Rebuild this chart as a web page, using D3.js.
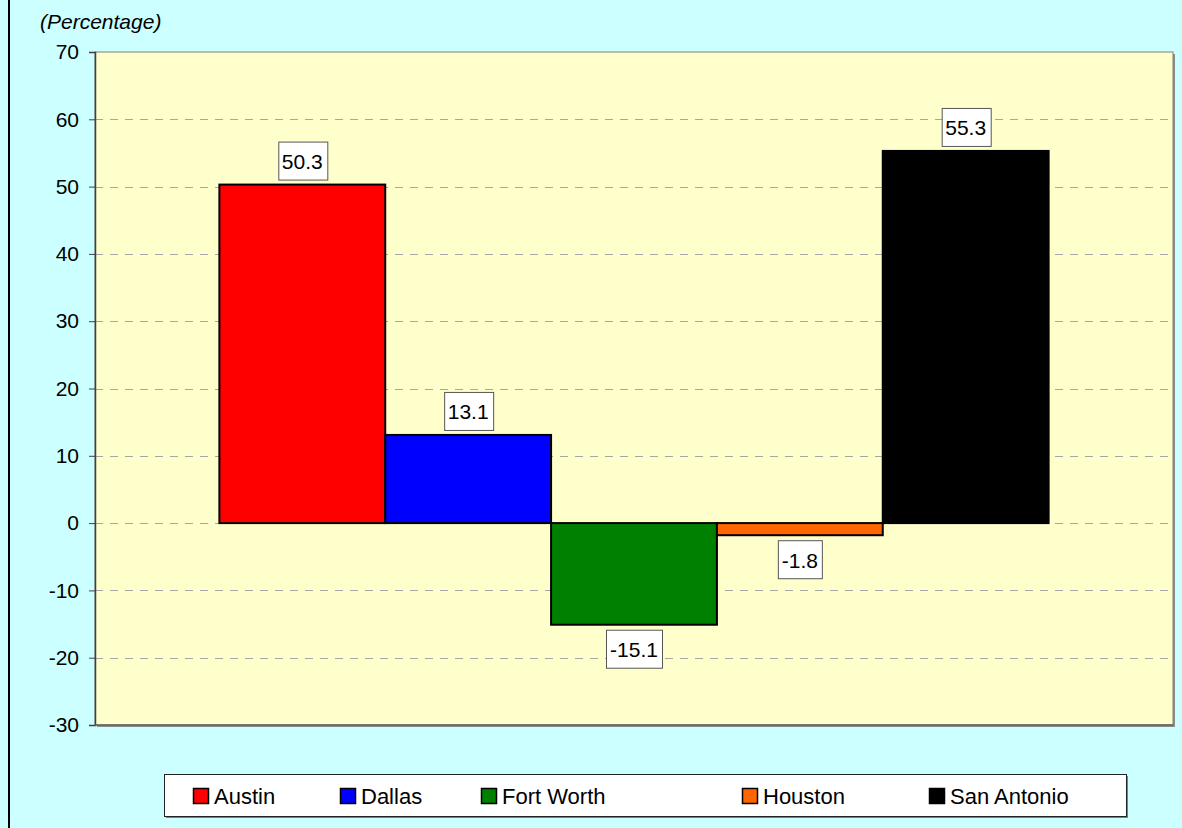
<!DOCTYPE html>
<html>
<head>
<meta charset="utf-8">
<script src="https://cdn.jsdelivr.net/npm/d3@7"></script>
<style>
  body { margin: 0; background: #CCFFFF; }
  svg { display: block; font-family: "Liberation Sans", Arial, sans-serif; }
</style>
</head>
<body>
<div id="wrapper"></div>
<script>
const cities = ["Austin", "Dallas", "Fort Worth", "Houston", "San Antonio"]
const values = [50.3, 13.1, -15.1, -1.8, 55.3]
const colors = ["#FF0000", "#0000FF", "#008000", "#FF6600", "#000000"]
const yTicks = [-30, -20, -10, 0, 10, 20, 30, 40, 50, 60, 70]
const legendX = [193, 340, 481, 742, 929]

function drawChart() {
  const dimensions = {
    width: 1182,
    height: 828,
    margin: { top: 52, right: 9, bottom: 103, left: 95 }
  }
  dimensions.boundedWidth = dimensions.width - dimensions.margin.left - dimensions.margin.right
  dimensions.boundedHeight = dimensions.height - dimensions.margin.top - dimensions.margin.bottom

  const wrapper = d3.select("#wrapper")
    .append("svg")
    .attr("width", dimensions.width)
    .attr("height", dimensions.height)

  wrapper.append("rect")
    .attr("width", dimensions.width)
    .attr("height", dimensions.height)
    .attr("fill", "#CCFFFF")

  // chart border (only left edge is in view)
  wrapper.append("line")
    .attr("x1", 9).attr("x2", 9)
    .attr("y1", 0).attr("y2", dimensions.height)
    .attr("stroke", "#000")
    .attr("stroke-width", 2)

  wrapper.append("text")
    .attr("x", 40).attr("y", 29)
    .attr("font-size", 21)
    .attr("font-style", "italic")
    .attr("fill", "#000")
    .text("(Percentage)")

  const bounds = wrapper.append("g")
    .attr("transform", `translate(${dimensions.margin.left},${dimensions.margin.top})`)

  const xScale = d3.scaleBand()
    .domain(cities)
    .range([0, dimensions.boundedWidth])
    .paddingInner(0)
    .paddingOuter(0.75)

  const yScale = d3.scaleLinear()
    .domain([-30, 70])
    .range([dimensions.boundedHeight, 0])

  // plot area with shadow
  bounds.append("rect")
    .attr("x", 2).attr("y", 2)
    .attr("width", dimensions.boundedWidth)
    .attr("height", dimensions.boundedHeight)
    .attr("fill", "#8c8c8c")
  bounds.append("rect")
    .attr("width", dimensions.boundedWidth)
    .attr("height", dimensions.boundedHeight)
    .attr("fill", "#FFFFCC")
    .attr("stroke", "#808080")
    .attr("stroke-width", 1)

  // gridlines
  bounds.append("g")
    .selectAll("line")
    .data(yTicks.filter(d => d > -30 && d < 70))
    .join("line")
    .attr("x1", 0)
    .attr("x2", dimensions.boundedWidth)
    .attr("y1", d => Math.round(yScale(d)) + 0.5)
    .attr("y2", d => Math.round(yScale(d)) + 0.5)
    .attr("stroke", "#A6A6A6")
    .attr("stroke-dasharray", "8,7")

  // y axis
  const yAxis = d3.axisLeft(yScale)
    .tickValues(yTicks)
    .tickSize(6)
    .tickPadding(10)
    .tickFormat(d => String(d))
  const yAxisG = bounds.append("g").call(yAxis)
  yAxisG.select(".domain").attr("stroke", "#404040").attr("stroke-width", 1.5)
  yAxisG.selectAll(".tick line").attr("stroke", "#404040")
  yAxisG.selectAll(".tick text")
    .attr("font-size", 21)
    .attr("font-family", "Liberation Sans, Arial, sans-serif")
    .attr("fill", "#000")

  bounds.append("line")
    .attr("x1", 0).attr("x2", dimensions.boundedWidth)
    .attr("y1", dimensions.boundedHeight).attr("y2", dimensions.boundedHeight)
    .attr("stroke", "#606060")
    .attr("stroke-width", 1.5)

  // bars
  const data = cities.map((c, i) => ({ city: c, value: values[i], color: colors[i] }))
  bounds.append("g")
    .selectAll("rect")
    .data(data)
    .join("rect")
    .attr("x", d => xScale(d.city))
    .attr("width", xScale.bandwidth())
    .attr("y", d => yScale(Math.max(0, d.value)))
    .attr("height", d => Math.abs(yScale(d.value) - yScale(0)))
    .attr("fill", d => d.color)
    .attr("stroke", "#000")
    .attr("stroke-width", 2)

  // value labels
  const labels = bounds.append("g")
    .selectAll("g")
    .data(data)
    .join("g")
    .attr("transform", d => {
      const cx = xScale(d.city) + xScale.bandwidth() / 2
      const cy = d.value >= 0 ? yScale(d.value) - 23 : yScale(d.value) + 25
      return `translate(${cx},${cy})`
    })
  labels.append("text")
    .attr("text-anchor", "middle")
    .attr("dy", "0.36em")
    .attr("font-size", 21)
    .attr("fill", "#000")
    .text(d => d.value.toFixed(1))
  labels.each(function() {
    const g = d3.select(this)
    const bb = g.select("text").node().getBBox()
    g.insert("rect", "text")
      .attr("x", Math.round(bb.x - 4) + 0.5)
      .attr("y", -19.5)
      .attr("width", Math.round(bb.width + 8))
      .attr("height", 38)
      .attr("fill", "#fff")
      .attr("stroke", "#555")
      .attr("stroke-width", 1)
  })

  // legend
  const legend = wrapper.append("g")
  legend.append("rect")
    .attr("x", 166).attr("y", 776)
    .attr("width", 962).attr("height", 42)
    .attr("fill", "#7f7f7f")
  legend.append("rect")
    .attr("x", 164.5).attr("y", 774.5)
    .attr("width", 962).attr("height", 42)
    .attr("fill", "#fff")
    .attr("stroke", "#222")
    .attr("stroke-width", 1)

  const items = legend.selectAll("g.item")
    .data(data)
    .join("g")
    .attr("class", "item")
    .attr("transform", (d, i) => `translate(${legendX[i]},788)`)
  items.append("rect")
    .attr("x", 0.5).attr("y", 0.5)
    .attr("width", 15).attr("height", 15)
    .attr("fill", d => d.color)
    .attr("stroke", "#000")
    .attr("stroke-width", 1.5)
  items.append("text")
    .attr("x", 21)
    .attr("y", 16)
    .attr("font-size", 22)
    .attr("fill", "#000")
    .text(d => d.city)
}

drawChart()
</script>
</body>
</html>
